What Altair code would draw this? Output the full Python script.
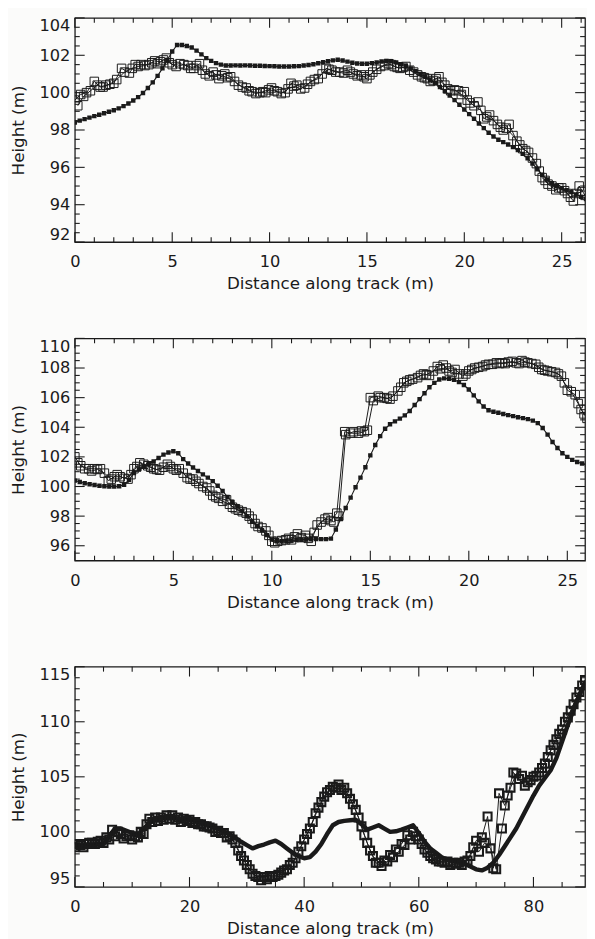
import altair as alt
import pandas as pd

FONT = "DejaVu Sans"
INK = "#1a1a1a"

# ---------------- Panel 1 ----------------
p1_dot_x = [0.00, 0.25, 0.50, 0.75, 1.00, 1.25, 1.50, 1.75, 2.00, 2.25, 2.50, 2.75, 3.00, 3.25, 3.50, 3.75,
            4.00, 4.25, 4.50, 4.75, 5.00, 5.25, 5.50, 5.75, 6.00, 6.25, 6.50, 6.75, 7.00, 7.25, 7.50, 7.75,
            8.00, 8.25, 8.50, 8.75, 9.00, 9.25, 9.50, 9.75, 10.00, 10.25, 10.50, 10.75, 11.00, 11.25, 11.50, 11.75,
            12.00, 12.25, 12.50, 12.75, 13.00, 13.25, 13.50, 13.75, 14.00, 14.25, 14.50, 14.75, 15.00, 15.25, 15.50, 15.75,
            16.00, 16.25, 16.50, 16.75, 17.00, 17.25, 17.50, 17.75, 18.00, 18.25, 18.50, 18.75, 19.00, 19.25, 19.50, 19.75,
            20.00, 20.25, 20.50, 20.75, 21.00, 21.25, 21.50, 21.75, 22.00, 22.25, 22.50, 22.75, 23.00, 23.25, 23.50, 23.75,
            24.00, 24.25, 24.50, 24.75, 25.00, 25.25, 25.50, 25.75, 26.00, 26.25]
p1_dot_h = [98.40, 98.50, 98.58, 98.66, 98.74, 98.82, 98.90, 98.98, 99.06, 99.16, 99.28, 99.42, 99.58, 99.76, 99.98, 100.25,
            100.55, 100.90, 101.30, 101.75, 102.20, 102.55, 102.55, 102.50, 102.42, 102.25, 102.05, 101.85, 101.70, 101.58, 101.50, 101.45,
            101.45, 101.46, 101.45, 101.46, 101.45, 101.44, 101.44, 101.43, 101.42, 101.41, 101.40, 101.40, 101.40, 101.41, 101.42, 101.45,
            101.48, 101.52, 101.57, 101.63, 101.68, 101.73, 101.76, 101.72, 101.66, 101.60, 101.56, 101.55, 101.55, 101.58, 101.62, 101.67,
            101.70, 101.68, 101.62, 101.52, 101.42, 101.30, 101.15, 101.00, 100.85, 100.68, 100.50, 100.30, 100.08, 99.85, 99.60, 99.35,
            99.10, 98.85, 98.60, 98.35, 98.10, 97.85, 97.65, 97.48, 97.35, 97.22, 97.08, 96.92, 96.72, 96.48, 96.20, 95.90,
            95.60, 95.35, 95.15, 95.00, 94.88, 94.78, 94.68, 94.55, 94.42, 94.30]

p1_a_x = [0.0, 0.3, 0.6, 1.0, 1.3, 1.6, 2.0, 2.4, 2.8, 3.1, 3.4, 3.8, 4.1, 4.4, 4.7, 5.0, 5.4, 5.8, 6.1, 6.4,
          6.7, 7.1, 7.4, 7.7, 8.0, 8.4, 8.8, 9.1, 9.5, 9.8, 10.1, 10.4, 10.8, 11.1, 11.4, 11.8, 12.1, 12.5, 12.9, 13.2,
          13.6, 14.0, 14.3, 14.7, 15.0, 15.3, 15.7, 16.1, 16.4, 16.7, 17.0, 17.4, 17.8, 18.1, 18.4, 18.7, 19.0, 19.3, 19.7, 20.0,
          20.3, 20.7, 21.0, 21.3, 21.7, 22.0, 22.3, 22.7, 23.0, 23.3, 23.7, 24.0, 24.3, 24.7, 25.0, 25.3, 25.6, 25.9, 26.2]
p1_a_h = [99.6, 99.9, 100.0, 100.6, 100.3, 100.4, 100.5, 101.3, 101.05, 101.5, 101.5, 101.5, 101.7, 101.65, 101.85, 101.5, 101.55, 101.45, 101.3, 101.55,
          101.0, 101.1, 100.75, 101.0, 100.85, 100.4, 100.25, 100.05, 100.0, 100.0, 100.25, 100.05, 100.0, 100.5, 100.4, 100.25, 100.6, 100.75, 101.3, 101.2,
          101.1, 101.2, 101.0, 100.95, 100.75, 101.1, 101.4, 101.55, 101.4, 101.3, 101.4, 101.1, 100.85, 100.75, 100.65, 100.85, 100.4, 100.1, 100.1, 100.05,
          99.45, 99.5, 98.6, 98.8, 98.3, 98.0, 98.3, 97.4, 97.0, 96.8, 96.2, 95.45, 95.1, 94.8, 94.9, 94.6, 94.2, 95.0, 94.5]

p1_b_x = [0.15, 0.45, 0.8, 1.15, 1.45, 1.8, 2.15, 2.55, 2.95, 3.25, 3.6, 3.95, 4.25, 4.55, 4.85, 5.2, 5.6, 5.95, 6.25, 6.55,
          6.9, 7.25, 7.55, 7.85, 8.2, 8.6, 8.95, 9.3, 9.65, 9.95, 10.25, 10.6, 10.95, 11.25, 11.6, 11.95, 12.3, 12.7, 13.05, 13.4,
          13.8, 14.15, 14.5, 14.85, 15.15, 15.5, 15.9, 16.25, 16.55, 16.85, 17.2, 17.6, 17.95, 18.25, 18.55, 18.85, 19.15, 19.5, 19.85, 20.15,
          20.5, 20.85, 21.15, 21.5, 21.85, 22.15, 22.5, 22.85, 23.15, 23.5, 23.85, 24.15, 24.5, 24.85, 25.15, 25.45, 25.75, 26.05]
p1_b_h = [99.3, 99.8, 100.1, 100.4, 100.3, 100.45, 100.7, 101.1, 101.3, 101.4, 101.45, 101.6, 101.55, 101.75, 101.6, 101.4, 101.5, 101.3, 101.45, 101.2,
          100.9, 100.95, 100.9, 100.8, 100.6, 100.3, 100.1, 99.95, 100.05, 100.15, 100.1, 99.95, 100.2, 100.35, 100.2, 100.45, 100.7, 101.0, 101.25, 101.1,
          101.05, 101.1, 100.9, 100.85, 100.95, 101.25, 101.45, 101.5, 101.35, 101.35, 101.2, 100.95, 100.8, 100.6, 100.75, 100.55, 100.2, 100.15, 99.9, 99.6,
          99.3, 99.05, 98.7, 98.5, 98.15, 98.1, 97.7, 97.2, 96.9, 96.5, 95.8, 95.3, 95.0, 94.9, 94.75, 94.4, 94.6, 94.7]

# ---------------- Panel 2 ----------------
p2_dot_x = [0.00, 0.25, 0.50, 0.75, 1.00, 1.25, 1.50, 1.75, 2.00, 2.25, 2.50, 2.75, 3.00, 3.25, 3.50, 3.75,
            4.00, 4.25, 4.50, 4.75, 5.00, 5.25, 5.50, 5.75, 6.00, 6.25, 6.50, 6.75, 7.00, 7.25, 7.50, 7.75,
            8.00, 8.25, 8.50, 8.75, 9.00, 9.25, 9.50, 9.75, 10.00, 10.25, 10.50, 10.75, 11.00, 11.25, 11.50, 11.75,
            12.00, 12.25, 12.50, 12.75, 13.00, 13.25, 13.50, 13.75, 14.00, 14.25, 14.50, 14.75, 15.00, 15.25, 15.50, 15.75,
            16.00, 16.25, 16.50, 16.75, 17.00, 17.25, 17.50, 17.75, 18.00, 18.25, 18.50, 18.75, 19.00, 19.25, 19.50, 19.75,
            20.00, 20.25, 20.50, 20.75, 21.00, 21.25, 21.50, 21.75, 22.00, 22.25, 22.50, 22.75, 23.00, 23.25, 23.50, 23.75,
            24.00, 24.25, 24.50, 24.75, 25.00, 25.25, 25.50, 25.75, 26.00]
p2_dot_h = [100.40, 100.30, 100.22, 100.15, 100.10, 100.05, 100.02, 100.00, 100.00, 100.02, 100.12, 100.45, 100.90, 101.15, 101.35, 101.52,
            101.70, 101.92, 102.15, 102.30, 102.38, 102.25, 101.85, 101.55, 101.28, 101.05, 100.82, 100.60, 100.36, 100.05, 99.70, 99.30,
            98.95, 98.65, 98.35, 97.98, 97.62, 97.32, 97.05, 96.72, 96.42, 96.32, 96.30, 96.32, 96.35, 96.38, 96.40, 96.42,
            96.44, 96.45, 96.45, 96.45, 96.48, 97.10, 97.80, 98.55, 99.25, 99.95, 100.60, 101.30, 102.10, 102.80, 103.40, 103.90,
            104.20, 104.40, 104.58, 104.80, 105.10, 105.50, 105.90, 106.30, 106.70, 107.00, 107.22, 107.30, 107.28, 107.20, 107.05, 106.85,
            106.55, 106.15, 105.75, 105.40, 105.15, 105.05, 104.98, 104.90, 104.82, 104.75, 104.68, 104.62, 104.55, 104.45, 104.28, 103.95,
            103.50, 103.00, 102.60, 102.25, 102.00, 101.80, 101.65, 101.55, 101.48]

p2_a_x = [0.0, 0.3, 0.7, 1.0, 1.3, 1.7, 2.0, 2.3, 2.7, 3.0, 3.3, 3.7, 4.0, 4.3, 4.7, 5.0, 5.3, 5.7, 6.0, 6.3,
          6.7, 7.0, 7.3, 7.7, 8.0, 8.3, 8.7, 9.0, 9.3, 9.7, 10.0, 10.3, 10.7, 11.0, 11.3, 11.7, 12.0, 12.3, 12.7, 13.0,
          13.3, 13.7, 14.0, 14.4, 14.7, 15.0, 15.4, 15.7, 16.0, 16.4, 16.7, 17.0, 17.4, 17.7, 18.0, 18.4, 18.7, 19.0, 19.3, 19.7,
          20.0, 20.3, 20.7, 21.0, 21.4, 21.7, 22.0, 22.4, 22.7, 23.0, 23.4, 23.7, 24.0, 24.4, 24.7, 25.0, 25.4, 25.7, 26.0]
p2_a_h = [102.0, 101.4, 101.2, 101.2, 101.2, 100.4, 100.66, 100.66, 100.5, 101.2, 101.6, 101.4, 101.2, 101.1, 101.5, 101.2, 101.2, 100.6, 100.5, 100.2,
          99.9, 99.4, 99.2, 99.1, 98.6, 98.4, 98.2, 97.8, 97.3, 97.0, 96.3, 96.3, 96.4, 96.4, 96.8, 96.7, 96.3, 97.4, 97.8, 97.7,
          98.2, 103.7, 103.6, 103.6, 103.7, 106.0, 106.1, 106.0, 105.9, 106.45, 107.0, 107.2, 107.35, 107.6, 107.5, 108.1, 108.2, 107.8, 107.9, 107.45,
          107.8, 108.0, 108.1, 108.25, 108.35, 108.35, 108.4, 108.35, 108.5, 108.35, 108.25, 107.9, 107.8, 107.7, 107.45, 106.5, 106.2, 105.2, 104.6]

p2_b_x = [0.15, 0.5, 0.85, 1.15, 1.5, 1.85, 2.15, 2.5, 2.85, 3.15, 3.5, 3.85, 4.15, 4.5, 4.85, 5.15, 5.5, 5.85, 6.15, 6.5,
          6.85, 7.15, 7.5, 7.85, 8.15, 8.5, 8.85, 9.15, 9.5, 9.85, 10.15, 10.5, 10.85, 11.15, 11.5, 11.85, 12.15, 12.5, 12.85, 13.15,
          13.4, 13.75, 14.15, 14.55, 14.85, 15.15, 15.5, 15.85, 16.15, 16.55, 16.85, 17.15, 17.55, 17.85, 18.2, 18.55, 18.85, 19.15, 19.5, 19.85,
          20.15, 20.5, 20.85, 21.2, 21.55, 21.85, 22.2, 22.55, 22.85, 23.2, 23.55, 23.85, 24.2, 24.55, 24.85, 25.2, 25.55, 25.85]
p2_b_h = [101.6, 101.2, 101.05, 101.15, 100.9, 100.5, 100.8, 100.55, 100.8, 101.35, 101.5, 101.3, 101.15, 101.3, 101.35, 101.1, 100.9, 100.5, 100.35, 100.0,
          99.7, 99.3, 99.0, 98.8, 98.5, 98.3, 98.0, 97.5, 97.2, 96.7, 96.2, 96.35, 96.5, 96.6, 96.55, 96.5, 96.9, 97.6, 97.9, 97.6,
          98.0, 103.5, 103.7, 103.75, 103.8, 105.8, 106.0, 105.95, 106.1, 106.7, 107.1, 107.25, 107.5, 107.55, 107.8, 107.95, 108.0, 107.7, 107.6, 107.6,
          107.9, 108.05, 108.2, 108.25, 108.3, 108.3, 108.45, 108.3, 108.4, 108.3, 108.05, 107.85, 107.75, 107.6, 107.0, 106.4, 105.6, 104.9]

# ---------------- Panel 3 ----------------
p3_dot_x = [0, 1, 2, 3, 4, 5, 6, 7, 8, 9, 10, 11, 12, 13, 14, 15, 16, 17, 18, 19, 20, 21, 22, 23, 24, 25, 26, 27, 28, 29,
            30, 31, 32, 33, 34, 35, 36, 37, 38, 39, 40, 41, 42, 43, 44, 45, 46, 47, 48, 49, 50, 51, 52, 53, 54, 55, 56, 57, 58, 59,
            60, 61, 62, 63, 64, 65, 66, 67, 68, 69, 70, 71, 72, 73, 74, 75, 76, 77, 78, 79, 80, 81, 82, 83, 84, 85, 86, 87, 88, 89]
p3_dot_h = [98.7, 98.75, 98.8, 98.8, 98.85, 98.9, 99.6, 100.3, 100.3, 100.1, 99.9, 99.7, 100.3, 100.8, 101.1, 101.3, 101.35, 101.3, 101.2, 101.15,
            101.1, 101.0, 100.85, 100.65, 100.5, 100.3, 100.05, 99.8, 99.45, 99.1, 98.8, 98.5, 98.7, 98.85, 99.05, 99.2, 98.9, 98.5, 98.1, 97.8,
            97.6, 97.7, 98.2, 98.9, 99.8, 100.6, 100.9, 101.0, 101.05, 101.1, 100.7, 100.2, 100.4, 100.6, 100.3, 100.0, 100.05, 100.2, 100.4, 100.6,
            99.9, 99.1, 98.5, 98.1, 97.7, 97.45, 97.35, 97.3, 97.1, 96.85, 96.6, 96.5, 96.75, 97.2, 97.9, 98.7, 99.5, 100.3, 101.3, 102.3,
            103.3, 104.2, 104.9, 105.6, 106.7, 108.2, 109.7, 111.1, 112.4, 113.6]

p3_a_x = [0, 1, 2, 3, 4, 5, 6, 7, 8, 9, 10, 11, 12, 13, 14, 15, 16, 17, 18, 19, 20, 21, 22, 23, 24, 25, 26, 27, 28, 29,
          30, 31, 32, 33, 34, 35, 36, 37, 38, 39, 40, 41, 42, 43, 44, 45, 46, 47, 48, 49, 50, 51, 52, 53, 54, 55, 56, 57, 58, 59,
          60, 61, 62, 63, 64, 65, 66, 67, 68, 69, 70, 71, 72, 73, 74, 75, 76, 77, 78, 79, 80, 81, 82, 83, 84, 85, 86, 87, 88, 89]
p3_a_h = [98.6, 98.8, 98.9, 99.0, 99.1, 99.0, 99.3, 99.6, 99.8, 99.6, 99.3, 99.5, 99.8, 101.2, 101.3, 101.3, 101.5, 101.5, 101.3, 101.2,
          101.1, 100.9, 100.7, 100.5, 100.3, 100.1, 99.9, 99.6, 99.0, 97.8, 97.0, 96.2, 95.9, 95.9, 96.0, 96.0, 96.3, 96.6, 97.2, 98.2,
          99.3, 100.3, 101.7, 102.7, 103.6, 104.1, 104.3, 104.0, 103.0, 102.0, 100.5, 99.0, 97.8, 97.2, 97.4, 97.9, 98.4, 98.9, 99.7, 100.0,
          99.3, 98.4, 97.8, 97.5, 97.3, 97.3, 97.2, 97.2, 97.3, 97.8, 99.2, 99.5, 101.4, 96.7, 103.5, 102.4, 104.0, 105.3, 105.1, 104.5,
          105.0, 105.4, 106.2, 107.4, 108.4, 109.3, 110.4, 111.6, 112.7, 113.8]

p3_b_x = [0.5, 1.5, 2.5, 3.5, 4.5, 5.5, 6.5, 7.5, 8.5, 9.5, 10.5, 11.5, 12.5, 13.5, 14.5, 15.5, 16.5, 17.5, 18.5, 19.5,
          20.5, 21.5, 22.5, 23.5, 24.5, 25.5, 26.5, 27.5, 28.5, 29.5, 30.5, 31.5, 32.5, 33.5, 34.5, 35.5, 36.5, 37.5, 38.5, 39.5,
          40.5, 41.5, 42.5, 43.5, 44.5, 45.5, 46.5, 47.5, 48.5, 49.5, 50.5, 51.5, 52.5, 53.5, 54.5, 55.5, 56.5, 57.5, 58.5, 59.5,
          60.5, 61.5, 62.5, 63.5, 64.5, 65.5, 66.5, 67.5, 68.5, 69.5, 70.5, 71.5, 72.5, 73.5, 74.5, 75.5, 76.5, 77.5, 78.5, 79.5,
          80.5, 81.5, 82.5, 83.5, 84.5, 85.5, 86.5, 87.5, 88.5]
p3_b_h = [98.9, 98.6, 99.0, 98.9, 99.2, 99.5, 100.2, 100.0, 99.4, 99.7, 99.6, 100.0, 100.7, 100.9, 101.0, 101.1, 101.2, 101.1, 100.9, 101.0,
          100.8, 100.7, 100.5, 100.4, 100.0, 99.9, 99.5, 99.3, 98.3, 97.4, 96.6, 96.0, 95.6, 95.7, 95.9, 96.1, 96.5, 97.0, 97.6, 98.7,
          99.8, 100.9, 102.2, 103.2, 103.8, 104.0, 103.8, 103.5, 102.5, 101.3, 99.7, 98.3, 97.2, 96.9, 97.3, 97.7, 98.2, 98.8, 99.3, 99.6,
          98.9, 98.1, 97.6, 97.3, 97.2, 97.0, 97.1, 97.0, 97.4, 98.6, 98.2, 99.0, 98.5, 96.6, 100.3, 103.3, 105.4, 104.8, 104.2, 104.7,
          105.1, 105.8, 106.8, 107.9, 108.9, 110.0, 111.0, 112.2, 113.3]

# ---------------- Tick values ----------------
p1_x_major = [0, 5, 10, 15, 20, 25]
p1_x_minor = [1, 2, 3, 4, 6, 7, 8, 9, 11, 12, 13, 14, 16, 17, 18, 19, 21, 22, 23, 24, 26]
p1_y_major = [92, 94, 96, 98, 100, 102, 104]
p1_y_minor = [92.5, 93, 93.5, 94.5, 95, 95.5, 96.5, 97, 97.5, 98.5, 99, 99.5,
              100.5, 101, 101.5, 102.5, 103, 103.5]

p2_x_major = [0, 5, 10, 15, 20, 25]
p2_x_minor = [1, 2, 3, 4, 6, 7, 8, 9, 11, 12, 13, 14, 16, 17, 18, 19, 21, 22, 23, 24]
p2_y_major = [96, 98, 100, 102, 104, 106, 108, 110]
p2_y_minor = [95, 95.5, 96.5, 97, 97.5, 98.5, 99, 99.5, 100.5, 101, 101.5, 102.5, 103, 103.5,
              104.5, 105, 105.5, 106.5, 107, 107.5, 108.5, 109, 109.5]

p3_x_major = [0, 20, 40, 60, 80]
p3_x_minor = [5, 10, 15, 25, 30, 35, 45, 50, 55, 65, 70, 75, 85]
p3_y_major = [95, 100, 105, 110, 115]
p3_y_minor = [96, 97, 98, 99, 101, 102, 103, 104, 106, 107, 108, 109, 111, 112, 113, 114]

W = 519
MAJ = 10
MIN = 5


def panel(dot_x, dot_h, a_x, a_h, b_x, b_h, xdom, ydom, xmaj, xmin, ymaj, ymin, H, heavy):
    xs = alt.Scale(domain=xdom, nice=False, zero=False)
    ys = alt.Scale(domain=ydom, nice=False, zero=False)
    xax = alt.Axis(values=xmaj, ticks=False, domain=False, grid=False, labelFlush=False,
                   labelPadding=12, title="Distance along track (m)", titlePadding=6, format="d")
    yax = alt.Axis(values=ymaj, ticks=False, domain=False, grid=False, labelFlush=True,
                   labelPadding=5, title="Height (m)", titlePadding=12, format="d")
    X = alt.X("x:Q", scale=xs, axis=xax)
    Y = alt.Y("y:Q", scale=ys, axis=yax)

    dots = pd.DataFrame({"x": dot_x, "y": dot_h})
    sa = pd.DataFrame({"x": a_x, "y": a_h})
    sb = pd.DataFrame({"x": b_x, "y": b_h})

    layers = []
    if heavy:
        layers.append(alt.Chart(dots).mark_line(color=INK, strokeWidth=4.5, clip=True,
                                                strokeJoin="round").encode(x=X, y=Y))
        sq_size, sq_w = 66, 2.1
    else:
        layers.append(alt.Chart(dots).mark_line(color=INK, strokeWidth=1.1, clip=True).encode(x=X, y=Y))
        layers.append(alt.Chart(dots).mark_point(shape="square", filled=True, color=INK, size=20,
                                                 opacity=1, clip=True).encode(x=X, y=Y))
        sq_size, sq_w = 75, 1.0
    for s in (sa, sb):
        layers.append(alt.Chart(s).mark_line(color=INK, strokeWidth=1.0, clip=True).encode(x=X, y=Y))
        layers.append(alt.Chart(s).mark_point(shape="square", filled=False, color=INK, size=sq_size,
                                              strokeWidth=sq_w, opacity=1, clip=True).encode(x=X, y=Y))

    # inward tick marks on all four sides
    for vals, ln in ((xmaj, MAJ), (xmin, MIN)):
        t = pd.DataFrame({"x": vals})
        layers.append(alt.Chart(t).mark_rule(color=INK, strokeWidth=1.1).encode(
            x=X, y=alt.value(H), y2=alt.value(H - ln)))
        layers.append(alt.Chart(t).mark_rule(color=INK, strokeWidth=1.1).encode(
            x=X, y=alt.value(0), y2=alt.value(ln)))
    for vals, ln in ((ymaj, MAJ), (ymin, MIN)):
        t = pd.DataFrame({"y": vals})
        layers.append(alt.Chart(t).mark_rule(color=INK, strokeWidth=1.1).encode(
            y=Y, x=alt.value(0), x2=alt.value(ln)))
        layers.append(alt.Chart(t).mark_rule(color=INK, strokeWidth=1.1).encode(
            y=Y, x=alt.value(W), x2=alt.value(W - ln)))

    return alt.layer(*layers).properties(width=W, height=H)


p1 = panel(p1_dot_x, p1_dot_h, p1_a_x, p1_a_h, p1_b_x, p1_b_h, [0, 26.2], [92, 104],
           p1_x_major, p1_x_minor, p1_y_major, p1_y_minor, 228, False)
p2 = panel(p2_dot_x, p2_dot_h, p2_a_x, p2_a_h, p2_b_x, p2_b_h, [0, 25.9], [95, 110],
           p2_x_major, p2_x_minor, p2_y_major, p2_y_minor, 226, False)
p3 = panel(p3_dot_x, p3_dot_h, p3_a_x, p3_a_h, p3_b_x, p3_b_h, [0, 89.0], [95, 115],
           p3_x_major, p3_x_minor, p3_y_major, p3_y_minor, 224, True)

top = alt.vconcat(p1, p2, spacing=44)
chart = alt.vconcat(top, p3, spacing=54).properties(
    padding={"left": 0, "top": 0, "right": 0, "bottom": 0},
    background="#fbfbfa",
).configure_view(
    stroke=INK, strokeWidth=1.3
).configure_axis(
    labelFont=FONT, titleFont=FONT, labelFontSize=16.5, titleFontSize=17,
    labelColor=INK, titleColor=INK, titleFontWeight="normal"
)

chart.save("out.html", embed_options={"renderer": "svg", "actions": False})
